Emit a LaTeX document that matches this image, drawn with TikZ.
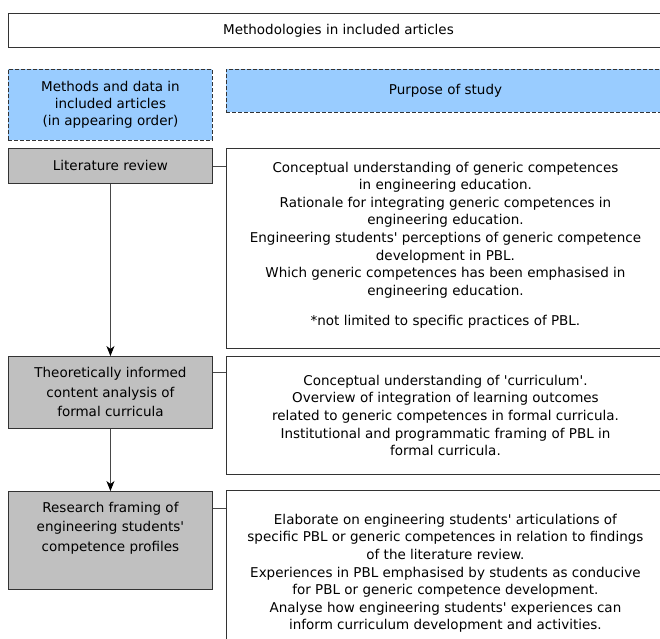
\documentclass[tikz,border=0pt]{standalone}
\usepackage{fontspec}
% plain typewriter-style apostrophes, no curly quote mapping
\setmainfont{DejaVu Sans}[Ligatures=TeXOff]
\usetikzlibrary{arrows.meta}
\definecolor{edge}{HTML}{333333}
\definecolor{headblue}{HTML}{99CCFF}
\definecolor{methodgray}{HTML}{C0C0C0}
\definecolor{wire}{HTML}{484848}

\begin{document}
\begin{tikzpicture}[x=1pt,y=-1pt,
  panel/.style={draw=edge, line width=0.9pt, anchor=north west, inner sep=0pt,
    align=center, font=\fontsize{13.5}{17.6}\selectfont},
  headbox/.style={panel, fill=headblue, dash pattern=on 4pt off 2pt},
  methodbox/.style={panel, fill=methodgray, minimum width=204pt,
    font=\fontsize{13.5}{19.5}\selectfont},
  purposebox/.style={panel, fill=white, minimum width=438pt},
  link/.style={draw=wire, line width=0.9pt},
  flow/.style={link, -{Stealth[length=10pt,width=8pt,inset=3pt,black]}}]
\useasboundingbox (0,0) rectangle (660,638);
\clip (0,0) rectangle (660,638);

% title bar and column headings
\node[panel, minimum width=660pt, minimum height=34pt] (title) at (8,13)
  {Methodologies in included articles};
\node[headbox, minimum width=204pt, minimum height=71pt,
  font=\fontsize{13.5}{17}\selectfont] (colm) at (8,69)
  {Methods and data in\\included articles\\(in appearing order)};
\node[headbox, minimum width=438pt, minimum height=43pt] (colp) at (226,69)
  {Purpose of study};

% methods (left) and their purposes (right)
\node[methodbox, minimum height=35pt] (lit) at (8,148) {Literature review};
\node[purposebox, minimum height=200pt, text depth=9pt] (p1) at (226,148)
  {Conceptual understanding of generic competences\\
   in engineering education.\\
   Rationale for integrating generic competences in\\
   engineering education.\\
   Engineering students' perceptions of generic competence\\
   development in PBL.\\
   Which generic competences has been emphasised in\\
   engineering education.\\[13pt]
   *not limited to specific practices of PBL.};

\node[methodbox, minimum height=72pt] (theo) at (8,356)
  {Theoretically informed\\content analysis of\\formal curricula};
\node[purposebox, minimum height=118pt] (p2) at (226,356)
  {Conceptual understanding of 'curriculum'.\\
   Overview of integration of learning outcomes\\
   related to generic competences in formal curricula.\\
   Institutional and programmatic framing of PBL in\\
   formal curricula.};

\node[methodbox, minimum height=98pt, text depth=28pt] (frame) at (8,491)
  {Research framing of\\engineering students'\\competence profiles};
\node[purposebox, minimum height=166pt] (p3) at (226,490)
  {Elaborate on engineering students' articulations of\\
   specific PBL or generic competences in relation to findings\\
   of the literature review.\\
   Experiences in PBL emphasised by students as conducive\\
   for PBL or generic competence development.\\
   Analyse how engineering students' experiences can\\
   inform curriculum development and activities.};

% connectors
\coordinate (t2) at ([yshift=-16pt]theo.north east);
\coordinate (t3) at ([yshift=-17pt]frame.north east);
\draw[link] (lit.east) -- (lit.east -| p1.west);
\draw[link] (t2) -- (t2 -| p2.west);
\draw[link] (t3) -- (t3 -| p3.west);
\draw[flow] (lit.south) -- (theo.north);
\draw[flow] (theo.south) -- (frame.north);
\end{tikzpicture}
\end{document}
